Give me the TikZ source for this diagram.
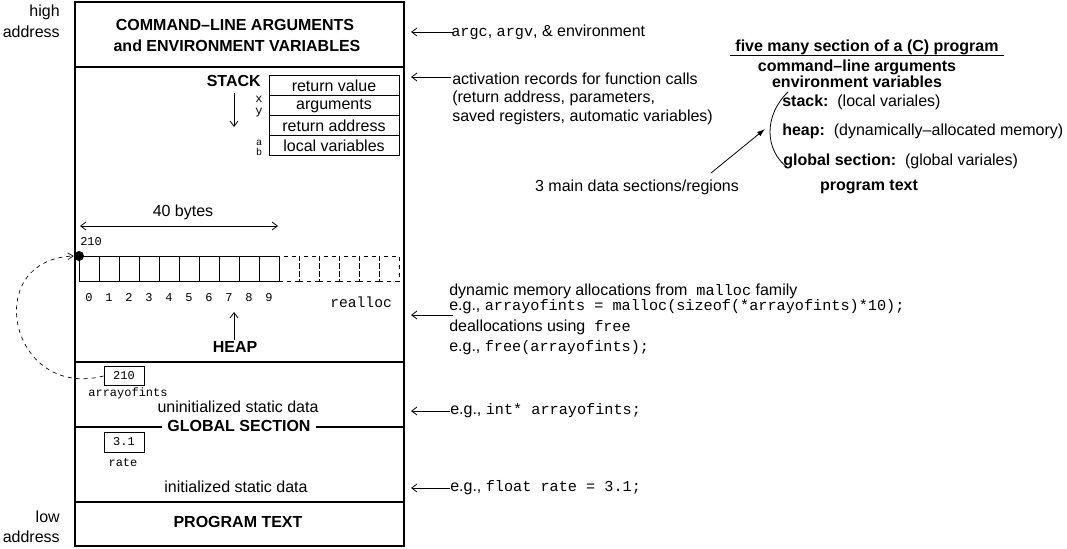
\documentclass[tikz,border=0pt]{standalone}
\usepackage{fontspec}
\setmainfont{Liberation Sans}
\setmonofont{Liberation Mono}
\usetikzlibrary{arrows.meta}
\newcommand{\cw}[1]{{\fontsize{11.4}{13}\selectfont\ttfamily #1}}
\begin{document}
\begin{tikzpicture}[x=0.75pt,y=-0.75pt,
  txt/.style={inner sep=0pt,font=\fontsize{12}{14}\selectfont},
  hd/.style={inner sep=0pt,font=\fontsize{12}{14}\selectfont\bfseries},
  mono/.style={inner sep=0pt,font=\fontsize{11}{13}\selectfont\ttfamily},
  smono/.style={inner sep=0pt,font=\fontsize{9}{11}\selectfont\ttfamily},
  tmono/.style={inner sep=0pt,font=\fontsize{7.5}{8}\selectfont\ttfamily},
  frame/.style={line width=1.5pt},
  row/.style={draw,line width=0.75pt,minimum width=97.5pt,minimum height=15pt,inner sep=0pt,font=\fontsize{12}{14}\selectfont},
  cell/.style={draw,line width=0.75pt,minimum width=15pt,minimum height=18.75pt,inner sep=0pt},
  vbox/.style={draw,line width=0.75pt,minimum width=30pt,minimum height=14pt,inner sep=0pt,font=\fontsize{9}{11}\selectfont\ttfamily},
  barb/.style={-{Straight Barb[length=4pt,width=6pt]},line width=0.6pt},
]
\useasboundingbox (0,0) rectangle (1067,549);
% main frame
\node[frame,draw,minimum width=246.75pt,minimum height=408pt,inner sep=0pt] (mem) at (239.5,274) {};
\coordinate (s1l) at (75,67); \coordinate (s1r) at (404,67);
\coordinate (s2l) at (75,362); \coordinate (s2r) at (404,362);
\coordinate (s3l) at (75,427); \coordinate (s3r) at (404,427);
\coordinate (s4l) at (75,502); \coordinate (s4r) at (404,502);
\draw[frame] (s1l) -- (s1r);
\draw[frame] (s2l) -- (s2r);
\draw[frame] (s3l) -- (s3r);
\draw[frame] (s4l) -- (s4r);
% left labels
\node[txt,anchor=east] (hi1) at (60,12) {high};
\node[txt,anchor=east] (hi2) at (60,32) {address};
\node[txt,anchor=east] (lo1) at (60,517) {low};
\node[txt,anchor=east] (lo2) at (60,537) {address};
% command line
\node[hd] (cl1) at (235,25) {COMMAND–LINE ARGUMENTS};
\node[hd] (cl2) at (237,46) {and ENVIRONMENT VARIABLES};
% stack
\node[hd,anchor=east] (stk) at (261,81) {STACK};
\node[row] (r1) at (334,86) {return value};
\node[row] (r2) at (334,106) {arguments};
\node[row] (r3) at (334,126) {return address};
\node[row] (r4) at (334,146) {local variables};
\node[smono] (vx) at (259,99) {x};
\node[smono] (vy) at (259,113) {y};
\node[tmono] (va) at (259,143) {a};
\node[tmono] (vb) at (259,152) {b};
\coordinate (sa1) at (234,93); \coordinate (sa2) at (234,127);
\draw[barb] (sa1) -- (sa2);
% heap array
\node[txt] (fb) at (183,212) {40 bytes};
\coordinate (fb1) at (80,226); \coordinate (fb2) at (278,226);
\draw[{Straight Barb[length=4pt,width=6pt]}-{Straight Barb[length=4pt,width=6pt]},line width=0.6pt] (fb1) -- (fb2);
\node[smono,anchor=west] (addr) at (80,242) {210};
\foreach \i in {0,...,9} {
  \node[cell] (c\i) at (89+20*\i,268.5) {};
  \node[smono,anchor=base] (n\i) at (89+20*\i,301) {\i};
}
\foreach \i in {10,...,15} {
  \node[cell,dashed] (c\i) at (89+20*\i,268.5) {};
}
\node[circle,fill=black,inner sep=0pt,minimum size=7.5pt] (dot) at (79,256) {};
\node[mono,anchor=west] (rea) at (330,302) {realloc};
\coordinate (ha1) at (234,340); \coordinate (ha2) at (234,312);
\draw[barb] (ha1) -- (ha2);
\node[hd] (heap) at (235,347) {HEAP};
% global
\node[vbox] (pbox) at (124,376) {210};
\node[smono] (aoi) at (128,393) {arrayofints};
\node[txt] (uninit) at (238,407) {uninitialized static data};
\node[hd,fill=white,inner xsep=4pt] (glob) at (239,426) {GLOBAL SECTION};
\node[vbox,minimum height=15pt] (rbox) at (124,442) {3.1};
\node[smono] (rate) at (123,463) {rate};
\node[txt] (init) at (236,487) {initialized static data};
\node[hd] (prog) at (238,522) {PROGRAM TEXT};
% dashed pointer
\draw[dashed,line width=0.5pt,-{Straight Barb[length=4pt,width=5pt]}] (pbox.west) .. controls (10,400) and (-20,260) .. (dot.west);
% right-hand annotations
\coordinate (a1s) at (453,32); \coordinate (a1e) at (411,32);
\draw[barb] (a1s) -- (a1e);
\node[txt,anchor=west] (t1) at (451,32) {\cw{argc}, \cw{argv}, \& environment};
\coordinate (a2s) at (451,77); \coordinate (a2e) at (411,77);
\draw[barb] (a2s) -- (a2e);
\node[txt,anchor=west] (t2a) at (452,79) {activation records for function calls};
\node[txt,anchor=west] (t2b) at (452,98) {(return address, parameters,};
\node[txt,anchor=west] (t2c) at (452,117) {saved registers, automatic variables)};
\coordinate (a3s) at (453,315); \coordinate (a3e) at (411,315);
\draw[barb] (a3s) -- (a3e);
\node[txt,anchor=west] (t3a) at (449,291) {dynamic memory allocations from \ \cw{malloc} family};
\node[txt,anchor=west] (t3b) at (449,307) {e.g., \cw{arrayofints = malloc(sizeof(*arrayofints)*10);}};
\node[txt,anchor=west] (t3c) at (449,327) {deallocations using \ \cw{free}};
\node[txt,anchor=west] (t3d) at (449,348) {e.g., \cw{free(arrayofints);}};
\coordinate (a4s) at (450,411); \coordinate (a4e) at (411,411);
\draw[barb] (a4s) -- (a4e);
\node[txt,anchor=west] (t4) at (450,411) {e.g., \cw{int* arrayofints;}};
\coordinate (a5s) at (450,488); \coordinate (a5e) at (411,488);
\draw[barb] (a5s) -- (a5e);
\node[txt,anchor=west] (t5) at (450,488) {e.g., \cw{float rate = 3.1;}};
% summary
\node[hd] (five) at (867,47) {five many section of a (C) program};
\coordinate (u1) at (730,56); \coordinate (u2) at (1004,56);
\draw[line width=0.75pt] (u1) -- (u2);
\node[hd] (cmd) at (857,67) {command–line arguments};
\node[hd] (env) at (857,82) {environment variables};
\node[txt,anchor=west] (stk2) at (782,102) {\textbf{stack:}\ \ (local variales)};
\node[txt,anchor=west] (heap2) at (782,131) {\textbf{heap:}\ \ (dynamically–allocated memory)};
\node[txt,anchor=west] (glob2) at (783,161) {\textbf{global section:}\ \ (global variales)};
\node[hd] (ptext) at (869,187) {program text};
\coordinate (br1) at (788,92); \coordinate (br2) at (788,168);
\draw[line width=0.6pt] (br1) .. controls (764,115) and (764,150) .. (br2);
\node[txt] (three) at (637,187) {3 main data sections/regions};
\coordinate (m1) at (711,173); \coordinate (m2) at (765,129);
\draw[line width=0.6pt,-{Latex[length=6pt,width=4pt]}] (m1) -- (m2);
\end{tikzpicture}
\end{document}
